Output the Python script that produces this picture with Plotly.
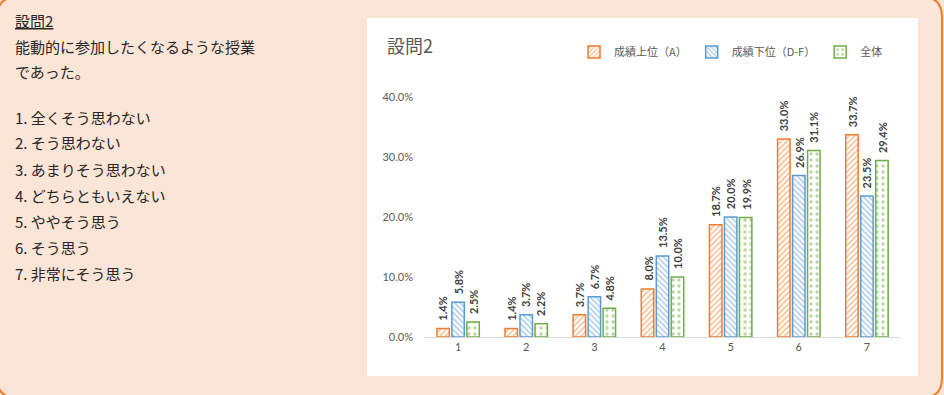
import plotly.graph_objects as go

# Survey question 2: response distribution by group (percent)
categories = ["1", "2", "3", "4", "5", "6", "7"]
top_group = [1.4, 1.4, 3.7, 8.0, 18.7, 33.0, 33.7]      # 成績上位（A）
bottom_group = [5.8, 3.7, 6.7, 13.5, 20.0, 26.9, 23.5]  # 成績下位（D-F）
all_students = [2.5, 2.2, 4.8, 10.0, 19.9, 31.1, 29.4]  # 全体

series_names = ["成績上位（A）", "成績下位（D-F）", "全体"]
y_ticks = [0, 10, 20, 30, 40]
y_tick_labels = [f"{v:.1f}%" for v in y_ticks]

question_lines = [
    "<u>設問2</u>",
    "能動的に参加したくなるような授業",
    "であった。",
]
choice_lines = [
    "1. 全くそう思わない",
    "2. そう思わない",
    "3. あまりそう思わない",
    "4. どちらともいえない",
    "5. ややそう思う",
    "6. そう思う",
    "7. 非常にそう思う",
]

W, H = 944, 395
JP = "Noto Sans CJK JP"
LAT = "Lato"
GRAY = "#595959"

PLOT_X0, PLOT_X1 = 424, 901
PLOT_Y0, PLOT_Y1 = 97, 337
BARGAP, BARGROUPGAP = 0.34, 0.17


def px(x):
    return x / W


def py(y):
    return 1 - y / H


fig = go.Figure()

styles = [
    ("#ED7D31", "/", 4, 0.4),
    ("#5B9BD5", "\\", 4, 0.4),
    ("#70AD47", ".", 6, 0.25),
]
series = [top_group, bottom_group, all_students]
for name, vals, (col, shape, size, sol) in zip(series_names, series, styles):
    fig.add_trace(
        go.Bar(
            x=categories,
            y=vals,
            name=name,
            marker=dict(
                color="white",
                line=dict(color=col, width=1.5),
                pattern=dict(shape=shape, fgcolor=col, bgcolor="white",
                             size=size, solidity=sol, fillmode="overlay"),
            ),
        )
    )

# value labels above each bar, rotated like the bars' data labels
cat_w = (PLOT_X1 - PLOT_X0) / len(categories)
slot_w = cat_w * (1 - BARGAP) / len(series)
annotations = []
for i, vals in enumerate(series):
    shift = (i - (len(series) - 1) / 2) * slot_w
    for k, v in enumerate(vals):
        annotations.append(dict(
            x=k, y=v, xref="x", yref="y", text=f"<b>{v:.1f}%</b>",
            textangle=-90, xanchor="center", yanchor="bottom",
            xshift=shift, yshift=6, showarrow=False,
            font=dict(family=LAT, size=11, color="#404040")))


def rounded_rect(x0, y0, x1, y1, r):
    pts = [
        f"M {px(x0 + r)},{py(y0)}",
        f"L {px(x1 - r)},{py(y0)}",
        f"Q {px(x1)},{py(y0)} {px(x1)},{py(y0 + r)}",
        f"L {px(x1)},{py(y1 - r)}",
        f"Q {px(x1)},{py(y1)} {px(x1 - r)},{py(y1)}",
        f"L {px(x0 + r)},{py(y1)}",
        f"Q {px(x0)},{py(y1)} {px(x0)},{py(y1 - r)}",
        f"L {px(x0)},{py(y0 + r)}",
        f"Q {px(x0)},{py(y0)} {px(x0 + r)},{py(y0)}",
        "Z",
    ]
    return " ".join(pts)


shapes = [
    # outer rounded panel border
    dict(type="path", xref="paper", yref="paper",
         path=rounded_rect(-3, -3, 942, 398, 20),
         line=dict(color="#ED7D31", width=2), fillcolor="rgba(0,0,0,0)",
         layer="below"),
    # white chart card
    dict(type="rect", xref="paper", yref="paper",
         x0=px(367), x1=px(918), y0=py(376), y1=py(18),
         fillcolor="white", line=dict(width=0), layer="below"),
]

q_y = [20, 46.5, 72]
for text, yy in zip(question_lines, q_y):
    annotations.append(dict(
        text=text, xref="paper", yref="paper", x=px(13), y=py(yy),
        xanchor="left", yanchor="middle", showarrow=False,
        font=dict(family=JP, size=15, color="#262626")))
c_y = [117.5, 143, 169, 195, 221, 247, 273]
for text, yy in zip(choice_lines, c_y):
    annotations.append(dict(
        text=text, xref="paper", yref="paper", x=px(13), y=py(yy),
        xanchor="left", yanchor="middle", showarrow=False,
        font=dict(family=JP, size=15, color="#262626")))

fig.update_layout(
    width=W, height=H,
    margin=dict(l=0, r=0, t=0, b=0, pad=0, autoexpand=False),
    paper_bgcolor="#FBE5D6",
    plot_bgcolor="rgba(0,0,0,0)",
    barmode="group",
    bargap=BARGAP,
    bargroupgap=BARGROUPGAP,
    title=dict(text="設問2", x=px(387), xref="paper", xanchor="left",
               y=py(47), yref="paper", yanchor="middle",
               font=dict(family=JP, size=18, color=GRAY)),
    legend=dict(orientation="h", x=px(574), y=py(52), xanchor="left",
                yanchor="middle", font=dict(family=JP, size=11, color=GRAY),
                bgcolor="rgba(0,0,0,0)", traceorder="normal"),
    xaxis=dict(
        domain=[px(PLOT_X0), px(PLOT_X1)],
        type="category", automargin=False,
        range=[-0.5, len(categories) - 0.5],
        showgrid=False, zeroline=False,
        showline=True, linecolor="#D9D9D9", linewidth=1,
        ticks="", tickfont=dict(family=LAT, size=11, color=GRAY),
    ),
    yaxis=dict(
        domain=[py(PLOT_Y1), py(PLOT_Y0)],
        range=[0, 40], automargin=False,
        tickvals=y_ticks, ticktext=y_tick_labels,
        showgrid=False, zeroline=False, showline=False,
        ticks="", ticklabelstandoff=10,
        tickfont=dict(family=LAT, size=11, color=GRAY),
    ),
    shapes=shapes,
    annotations=annotations,
)

fig.write_html("out.html")
